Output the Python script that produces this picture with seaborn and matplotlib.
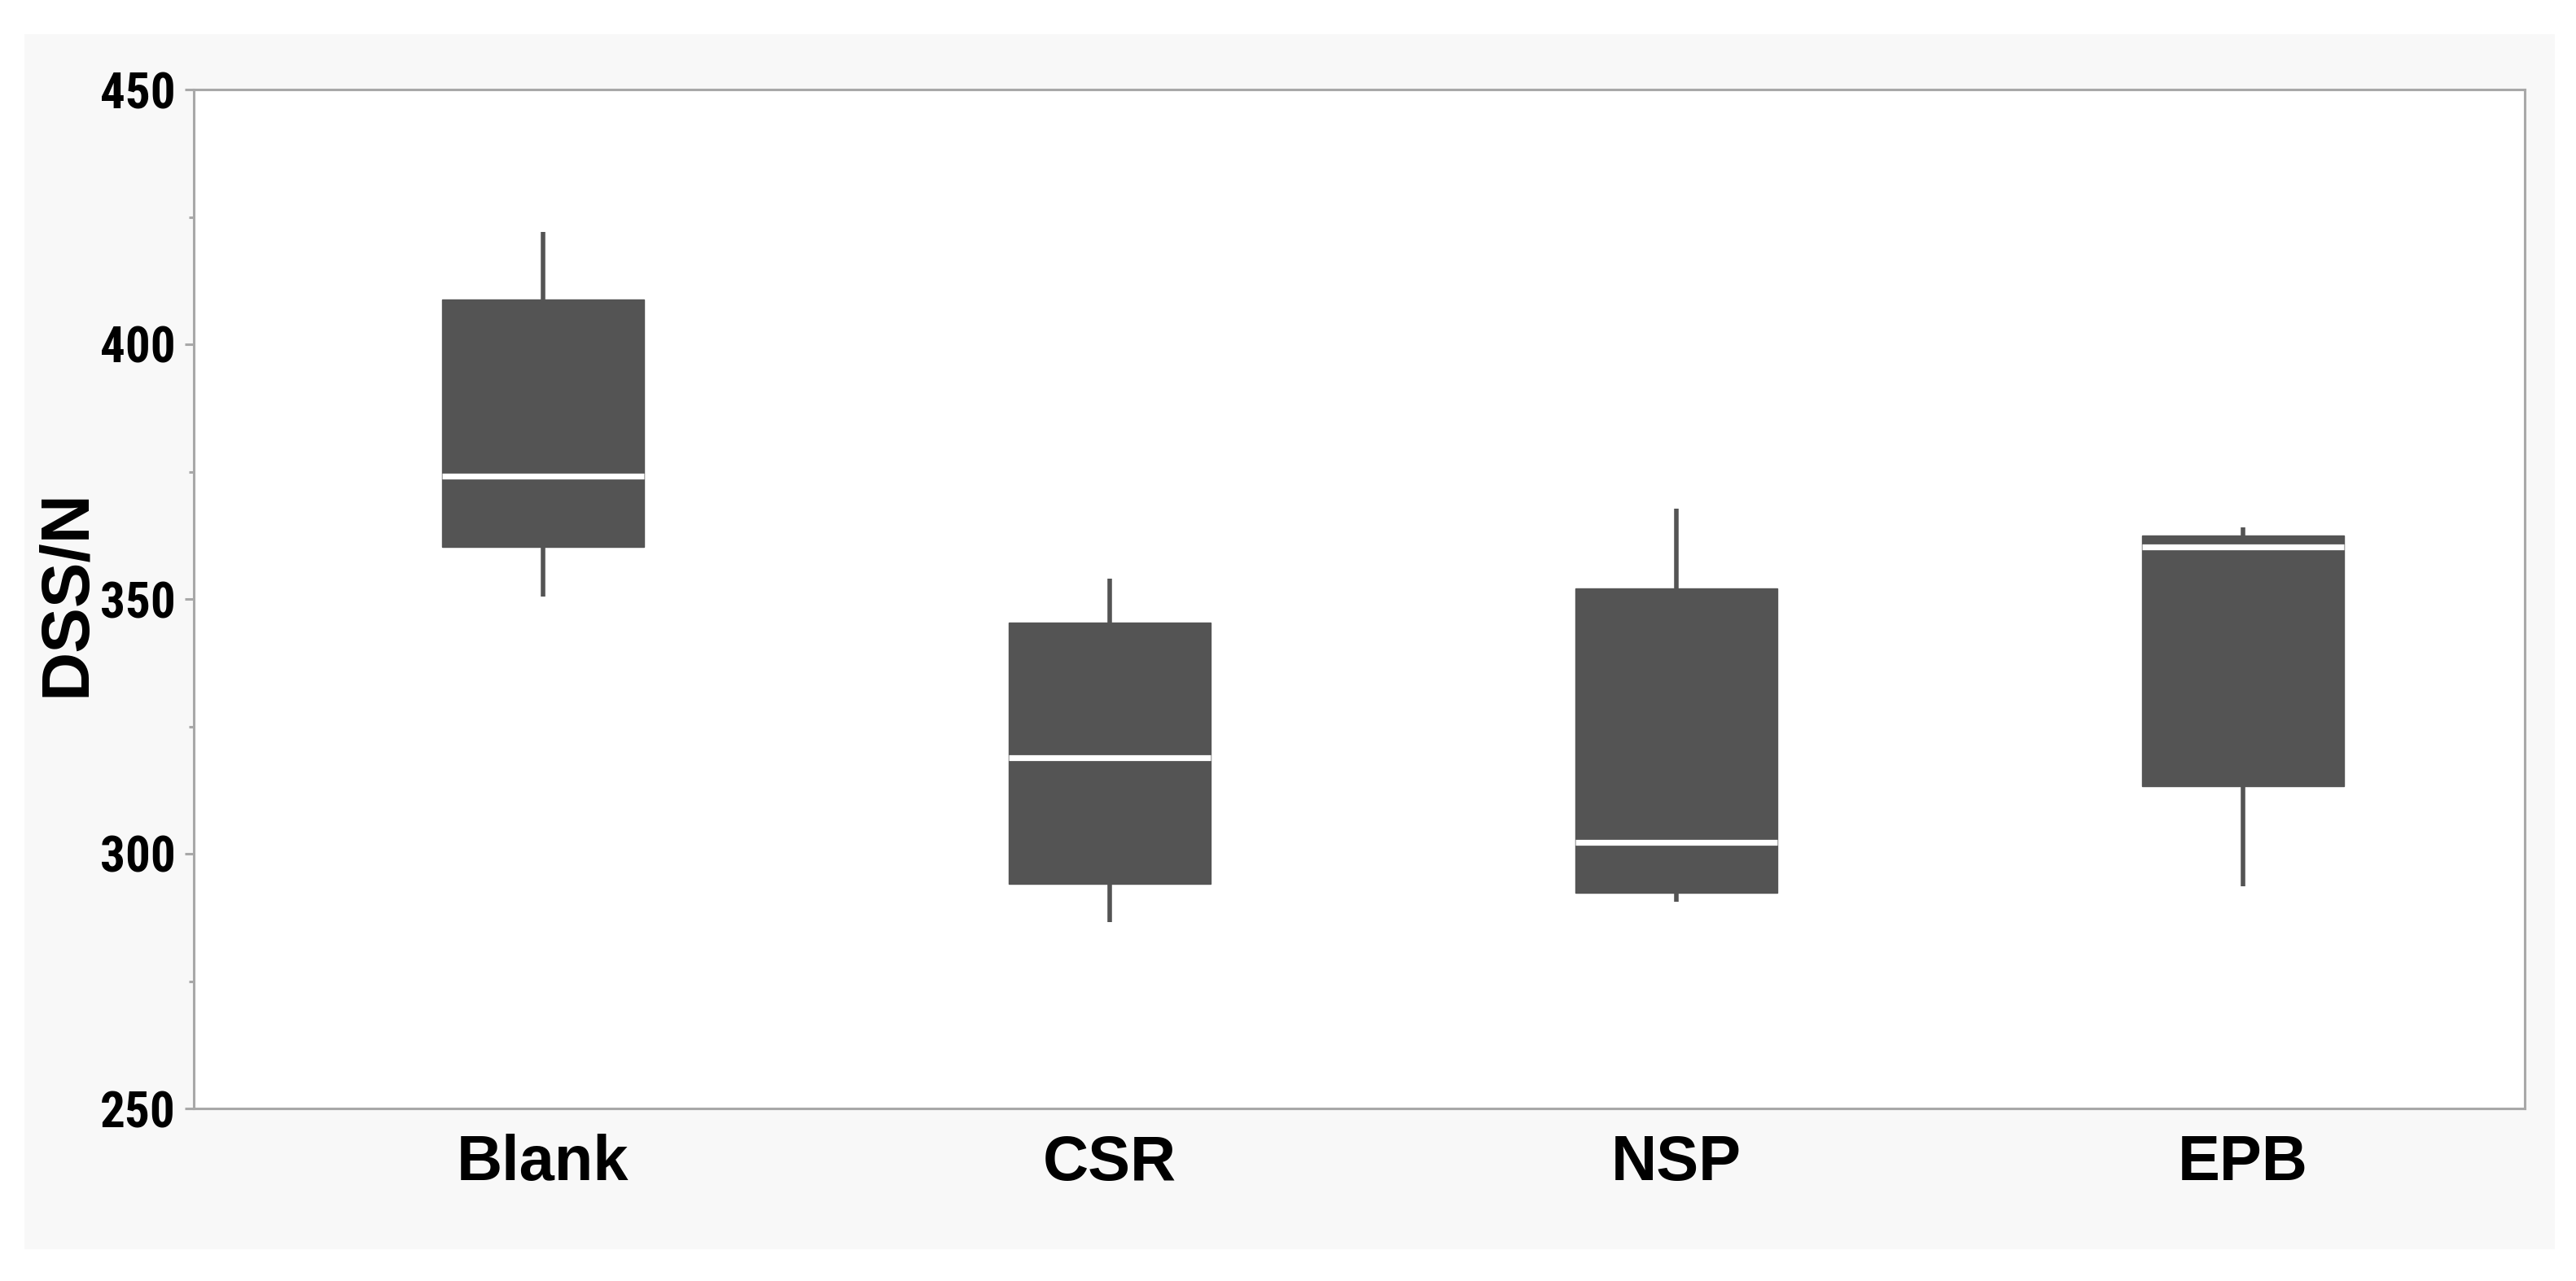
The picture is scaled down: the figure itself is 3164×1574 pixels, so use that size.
import numpy as np
import pandas as pd
import seaborn as sns
import matplotlib.pyplot as plt
from matplotlib.patches import Rectangle
from matplotlib.ticker import MultipleLocator

# Five readings per treatment (min, Q1, median, Q3, max)
categories = ["Blank", "CSR", "NSP", "EPB"]
blank_vals = [350.5, 360.2, 374.1, 408.8, 422.0]
csr_vals = [286.6, 294.1, 318.8, 345.4, 354.0]
nsp_vals = [290.5, 292.3, 302.2, 352.0, 367.7]
epb_vals = [293.6, 313.3, 360.2, 362.5, 364.0]

df = pd.DataFrame({
    "group": np.repeat(categories, 5),
    "value": blank_vals + csr_vals + nsp_vals + epb_vals,
})

sns.set_style("ticks")
plt.rcParams['font.family'] = ['Liberation Sans', 'DejaVu Sans']

box_color = "#545454"
frame_color = "#a8a8a8"

fig = plt.figure(figsize=(15.82, 7.87), dpi=200, facecolor="white")

# light grey panel behind the plot
fig.add_artist(Rectangle((30 / 3164, 1 - 1535 / 1574), (3138 - 30) / 3164, (1535 - 42) / 1574,
                         transform=fig.transFigure, facecolor="#f8f8f8",
                         edgecolor="none", zorder=-10))

ax = fig.add_axes([238 / 3164, 1 - 1362 / 1574, (3101 - 238) / 3164, (1362 - 110) / 1574])
ax.set_facecolor("white")

sns.boxplot(data=df, x="group", y="value", order=categories, ax=ax,
            color=box_color, saturation=1, width=0.356, whis=(0, 100),
            showcaps=False, linewidth=2, linecolor=box_color,
            medianprops=dict(color="white", linewidth=2.6),
            boxprops=dict(edgecolor=box_color, linewidth=0.5),
            whiskerprops=dict(color=box_color, linewidth=2))

ax.set_xlim(-0.616, 3.497)
ax.set_ylim(250, 450)
ax.yaxis.set_major_locator(MultipleLocator(50))
ax.yaxis.set_minor_locator(MultipleLocator(25))

for side in ["left", "right", "top", "bottom"]:
    ax.spines[side].set_visible(True)
    ax.spines[side].set_color(frame_color)
    ax.spines[side].set_linewidth(1.1)

ax.tick_params(axis="y", which="major", length=4, width=1.1, color=frame_color,
               labelsize=22, labelcolor="black", pad=4)
ax.tick_params(axis="y", which="minor", length=2, width=1.1, color=frame_color)
ax.tick_params(axis="x", length=0, labelsize=28, labelcolor="black", pad=11)
for lab in ax.get_xticklabels():
    lab.set_fontweight("bold")
for lab in ax.get_yticklabels():
    lab.set_fontweight("bold")
    lab.set_family(['Roboto Condensed', 'Liberation Sans Narrow', 'Liberation Sans'])

ax.set_xlabel("")
ax.set_ylabel("DSS/N", fontsize=30, fontweight="bold", color="black", va="center")
ax.yaxis.set_label_coords(-0.0545, 0.506)

fig.savefig("out.png", dpi=200, facecolor="white")
